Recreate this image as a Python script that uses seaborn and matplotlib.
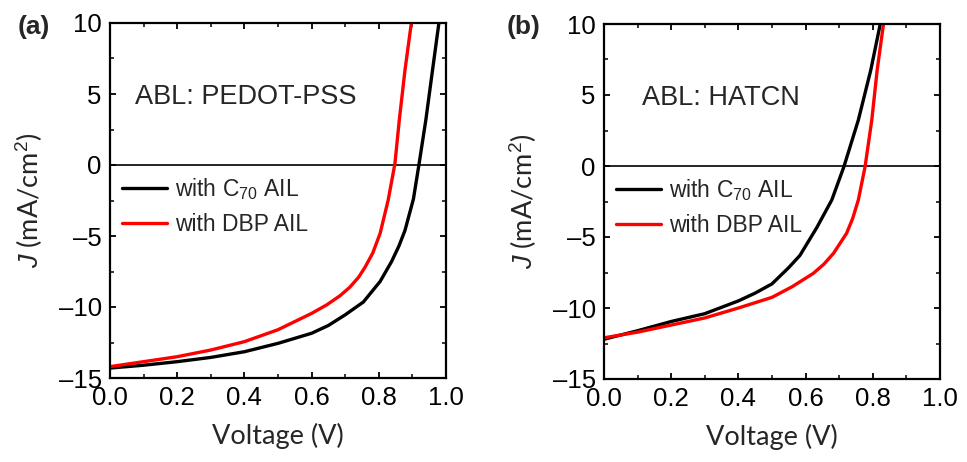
import numpy as np
import pandas as pd
import matplotlib
matplotlib.use("Agg")
import matplotlib.pyplot as plt
from matplotlib.ticker import MultipleLocator
import seaborn as sns

# ---- data ----
# Panel (a): ABL PEDOT-PSS
a_c70_v = [0.00, 0.10, 0.20, 0.30, 0.40, 0.50, 0.60, 0.65, 0.70, 0.754, 0.804, 0.838, 0.860, 0.878, 0.903, 0.920, 0.940, 0.960, 0.980]
a_c70_j = [-14.3, -14.1, -13.85, -13.55, -13.15, -12.56, -11.85, -11.3, -10.55, -9.65, -8.2, -6.8, -5.7, -4.6, -2.4, 0.1, 3.17, 6.7, 10.2]
a_dbp_v = [0.00, 0.10, 0.20, 0.30, 0.40, 0.50, 0.60, 0.645, 0.685, 0.714, 0.740, 0.759, 0.782, 0.804, 0.828, 0.848, 0.861, 0.878, 0.898]
a_dbp_j = [-14.2, -13.85, -13.5, -13.03, -12.44, -11.6, -10.45, -9.85, -9.2, -8.6, -7.9, -7.2, -6.2, -4.81, -2.46, 0.1, 3.17, 6.7, 10.2]
# Panel (b): ABL HATCN
b_c70_v = [0.00, 0.10, 0.20, 0.30, 0.40, 0.45, 0.50, 0.55, 0.583, 0.633, 0.678, 0.714, 0.757, 0.794, 0.824]
b_c70_j = [-12.2, -11.6, -10.95, -10.4, -9.5, -8.95, -8.3, -7.15, -6.3, -4.35, -2.39, -0.05, 3.24, 6.76, 10.2]
b_dbp_v = [0.00, 0.10, 0.20, 0.30, 0.40, 0.50, 0.56, 0.623, 0.655, 0.683, 0.722, 0.740, 0.757, 0.777, 0.797, 0.813, 0.833]
b_dbp_j = [-12.1, -11.7, -11.2, -10.7, -10.0, -9.25, -8.5, -7.56, -6.9, -6.15, -4.74, -3.7, -2.39, -0.05, 3.24, 6.76, 10.2]

series_labels = ["with C$_{70}$ AIL", "with DBP AIL"]
panel_tags = ["(a)", "(b)"]
panel_notes = ["ABL: PEDOT-PSS", "ABL: HATCN"]
x_ticks = [0.0, 0.2, 0.4, 0.6, 0.8, 1.0]
y_ticks = [-15, -10, -5, 0, 5, 10]

sns.set_theme(style="ticks")
plt.rcParams["font.family"] = ["Liberation Sans", "DejaVu Sans"]
plt.rcParams["mathtext.fontset"] = "custom"
plt.rcParams["mathtext.rm"] = "Liberation Sans"
plt.rcParams["mathtext.it"] = "Liberation Sans:italic"

def make_df(v, j, label):
    return pd.DataFrame({"V": v, "J": j, "series": label})

panels = [
    pd.concat([make_df(a_c70_v, a_c70_j, series_labels[0]), make_df(a_dbp_v, a_dbp_j, series_labels[1])]),
    pd.concat([make_df(b_c70_v, b_c70_j, series_labels[0]), make_df(b_dbp_v, b_dbp_j, series_labels[1])]),
]
palette = {series_labels[0]: "black", series_labels[1]: "#ff0000"}

W, H = 967, 462
fig = plt.figure(figsize=(W / 100, H / 100), dpi=100)
boxes = [(110, 23, 336, 355), (604, 24, 336, 355)]
tag_x = [18, 507]
note_x = [0.075, 0.113]

for i, (df, (l, t, w, h)) in enumerate(zip(panels, boxes)):
    ax = fig.add_axes([l / W, (H - t - h) / H, w / W, h / H])
    ax.axhline(0, color="black", lw=1.2, zorder=1)
    sns.lineplot(data=df, x="V", y="J", hue="series", palette=palette, sort=False,
                 estimator=None, lw=2.4, ax=ax, legend=True,
                 solid_joinstyle="round", solid_capstyle="round")
    ax.set_xlim(0, 1.0)
    ax.set_ylim(-15, 10)
    ax.set_xticks(x_ticks)
    ax.set_xticklabels([f"{x:.1f}" for x in x_ticks])
    ax.set_yticks(y_ticks)
    ax.set_yticklabels([str(y).replace("-", "\u2013") for y in y_ticks])
    ax.xaxis.set_minor_locator(MultipleLocator(0.1))
    ax.yaxis.set_minor_locator(MultipleLocator(2.5))
    ax.tick_params(which="both", direction="in", top=True, right=True, color="black")
    ax.tick_params(which="major", length=4, width=1.3, labelsize=18.5, pad=6, labelcolor="black")
    ax.tick_params(which="minor", length=3, width=1.1)
    for s in ax.spines.values():
        s.set_linewidth(1.6)
        s.set_color("black")
    ax.set_xlabel("Voltage (V)", fontsize=19.5, family=["Lato", "DejaVu Sans"], labelpad=9)
    ax.set_ylabel("$\\it{J}$ (mA/cm$^{2}$)", fontsize=19.5, family=["Lato", "DejaVu Sans"], labelpad=10)
    ax.text(note_x[i], 4.8, panel_notes[i], fontsize=19.5, va="center", ha="left")
    handles, labels = ax.get_legend_handles_labels()
    ax.legend(handles, labels, loc="center left", bbox_to_anchor=(0.036, 0.4845), frameon=False,
              fontsize=16.5, handlelength=1.96, handletextpad=0.35, labelspacing=0.5,
              borderaxespad=0.0, borderpad=0.0)
    fig.text(tag_x[i] / W, 1 - 27 / H, panel_tags[i], fontsize=19, fontweight="bold",
             ha="left", va="center")

fig.savefig("out.png", dpi=100)
